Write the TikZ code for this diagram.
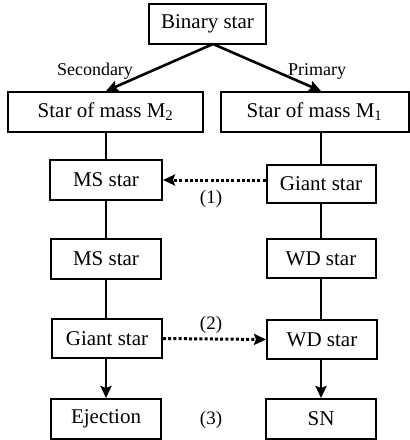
\documentclass[tikz,border=0pt]{standalone}
\usepackage{fontspec}
\setmainfont{Liberation Serif}
\usetikzlibrary{arrows.meta}

\begin{document}
\begin{tikzpicture}[x=1pt,y=-1pt,
  box/.style={draw,rectangle,line width=2pt,inner sep=0pt,
    minimum height=40pt,font=\fontsize{21}{25}\selectfont},
  lbl/.style={font=\fontsize{18}{22}\selectfont},
  num/.style={font=\fontsize{19}{23}\selectfont},
  link/.style={line width=2.6pt},
  tip/.style={-{Stealth[length=12pt,width=11pt,inset=2pt]}},
  dots/.style={line width=3pt,dash pattern=on 3pt off 2.2pt}]
\useasboundingbox (0,0) rectangle (410,440);
% top
\node[box, minimum width=117pt] (bin) at (207.5,24) {Binary star};
\coordinate (split) at (213,44);
% secondary column
\node[box, minimum width=195pt] (m2) at (105.5,112) {Star of mass M\textsubscript{2}};
\node[box, minimum width=112pt] (ms1) at (106,180) {MS star};
\node[box, minimum width=110pt] (ms2) at (106,259) {MS star};
\node[box, minimum width=110pt, minimum height=39pt] (gi2) at (107,338.5) {Giant star};
\node[box, minimum width=110pt] (ej) at (106,419) {Ejection};
% primary column
\node[box, minimum width=188pt] (m1) at (314.5,112) {Star of mass M\textsubscript{1}};
\node[box, minimum width=109pt, minimum height=38pt] (gi1) at (321,184) {Giant star};
\node[box, minimum width=109pt, minimum height=39pt] (wd2) at (321,258.5) {WD star};
\node[box, minimum width=110pt, minimum height=39pt] (wd3) at (322,339.5) {WD star};
\node[box, minimum width=110pt] (sn) at (321,419) {SN};
% split arrows
\path[draw,link,tip] (split) -- (m2.north -| ms1);
\path[draw,link,tip] (split) -- (m1.north -| gi1);
\node[lbl] (sec) at (95,71) {Secondary};
\node[lbl] (pri) at (317,71) {Primary};
% left evolution
\path[draw,link] (m2.south -| ms1) -- (ms1.north);
\path[draw,link] (ms1) -- (ms2);
\path[draw,link] (ms2.south) -- (gi2.north -| ms2);
\path[draw,link,tip] (gi2.south -| ms2) -- (ej.north);
% right evolution
\path[draw,link] (m1.south -| gi1) -- (gi1.north);
\path[draw,link] (gi1) -- (wd2);
\path[draw,link] (wd2.south) -- (wd3.north -| wd2);
\path[draw,link,tip] (wd3.south -| sn) -- (sn.north);
% mass transfer
\path[draw,dots,tip] (gi1.west |- ms1) -- (ms1.east);
\path[draw,dots,tip] (gi2.east) -- (wd3.west);
\node[num] (n1) at (211,199) {(1)};
\node[num] (n2) at (211,325) {(2)};
\node[num] (n3) at (211,420) {(3)};
\end{tikzpicture}
\end{document}
